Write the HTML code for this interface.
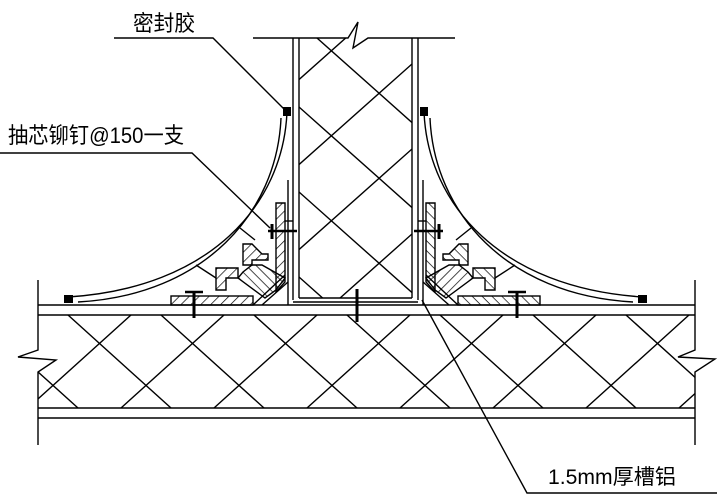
<!DOCTYPE html>
<html><head><meta charset="utf-8"><style>
html,body{margin:0;padding:0;background:#fff;width:717px;height:495px;overflow:hidden}
svg{display:block}
text{font-family:"Liberation Sans","Noto Sans CJK SC",sans-serif;fill:#000}
</style></head><body>
<svg width="717" height="495" viewBox="0 0 717 495" xmlns="http://www.w3.org/2000/svg">
<defs>
<pattern id="hatch" patternUnits="userSpaceOnUse" width="7" height="7" patternTransform="rotate(45)">
<line x1="0" y1="0" x2="0" y2="7" stroke="#000" stroke-width="1.4"/>
</pattern>
<pattern id="hatch2" patternUnits="userSpaceOnUse" width="7" height="7" patternTransform="rotate(-45)">
<line x1="0" y1="0" x2="0" y2="7" stroke="#000" stroke-width="1.4"/>
</pattern>
<clipPath id="floorClip"><rect x="38" y="315" width="657" height="93"/></clipPath>
<clipPath id="wallClip"><rect x="299" y="38" width="113" height="260"/></clipPath>
</defs>
<g stroke="#000" fill="none" stroke-width="1.4">
<g>
<line x1="38" y1="305" x2="695" y2="305"/>
<line x1="38" y1="315" x2="695" y2="315"/>
<line x1="38" y1="408" x2="695" y2="408"/>
<line x1="38" y1="418" x2="695" y2="418"/>
<polyline points="38,280 38,350 18,357 56,360 38,372 38,445"/>
<polyline points="695,280 695,350 678,357 715,359 695,372 695,445"/>
<g id="floorHatch" clip-path="url(#floorClip)"></g>
</g>
<g>
<polyline points="253,38 348,38 358,22 353,48 368,38 455,38"/>
<line x1="293" y1="38" x2="293" y2="300"/>
<line x1="299" y1="38" x2="299" y2="298"/>
<line x1="412" y1="38" x2="412" y2="298"/>
<line x1="418" y1="38" x2="418" y2="300"/>
<line x1="299" y1="298" x2="412" y2="298"/>
<line x1="293" y1="302" x2="418" y2="302"/>
<polyline points="288,180 288,305"/>
<polyline points="423,180 423,305"/>
<g id="wallHatch" clip-path="url(#wallClip)"></g>
<line x1="357" y1="289" x2="357" y2="322" stroke-width="3"/>
</g>
<g>
<path d="M287,112 C283,205 210,288 68,297"/>
<path d="M281,118 C277,212 205,295 78,302"/>
<rect x="64" y="295" width="9" height="8" fill="#000" stroke="none"/>
<rect x="283" y="107" width="8" height="9" fill="#000" stroke="none"/>
</g>
<g transform="translate(711,0) scale(-1,1)">
<path d="M287,112 C283,205 210,288 68,297"/>
<path d="M281,118 C277,212 205,295 78,302"/>
<rect x="64" y="295" width="9" height="8" fill="#000" stroke="none"/>
<rect x="283" y="107" width="8" height="9" fill="#000" stroke="none"/>
</g>
<g id="leftBracket">
<rect x="171" y="296" width="82" height="9" fill="url(#hatch)"/>
<line x1="185" y1="292" x2="203" y2="292" stroke-width="2.5"/>
<line x1="194" y1="292" x2="194" y2="318" stroke-width="3"/>
<polygon points="276,203 285,203 285,282 276,292" fill="url(#hatch)"/>
<line x1="268" y1="231" x2="297" y2="231" stroke-width="2.5"/>
<line x1="272" y1="224" x2="272" y2="239" stroke-width="3"/>
<polyline points="285,221 293,221"/>
<line x1="253" y1="305" x2="285" y2="275"/>
<line x1="262" y1="305" x2="288" y2="282"/>
<polygon points="243,244 252,244 262,254 268,254 268,260 252,260 252,265 243,265" fill="url(#hatch)"/>
<polygon points="216,268 238,268 238,278 226,278 226,290 216,290" fill="url(#hatch)"/>
<polygon points="252,265 262,265 285,278 276,290 265,298 238,278 243,272" fill="url(#hatch2)"/>
<polyline points="240,228 255,240"/>
<polyline points="196,265 216,278"/>
</g>
<use href="#leftBracket" transform="translate(711,0) scale(-1,1)"/>
<g>
<polyline points="114,38 213,38 285,110"/>
</g>
<g>
<polyline points="0,153 192,153 270,228"/>
</g>
<g>
<polyline points="717,493 527,493 422,300"/>
</g>
</g>
<text x="133" y="31" font-size="22" textLength="62" lengthAdjust="spacingAndGlyphs">密封胶</text>
<text x="8" y="143" font-size="22" textLength="176" lengthAdjust="spacingAndGlyphs">抽芯铆钉@150一支</text>
<text x="548" y="484" font-size="21" textLength="128" lengthAdjust="spacingAndGlyphs">1.5mm厚槽铝</text>
</svg>
<script>
var ns="http://www.w3.org/2000/svg";
function ln(g,x1,y1,x2,y2){var l=document.createElementNS(ns,"line");
l.setAttribute("x1",x1);l.setAttribute("y1",y1);l.setAttribute("x2",x2);l.setAttribute("y2",y2);


g.appendChild(l);}
var fh=document.getElementById("floorHatch");
for(var k=-3;k<10;k++){var x=68+93*k;ln(fh,x,315,x+103,408);var x2=131+93*k;ln(fh,x2,315,x2-103,408);}
var wh=document.getElementById("wallHatch");
var s=0.89;
for(var k=-2;k<6;k++){var y=22+85*k;ln(wh,299,y,412,y+113*s);var y2=-21+85*k;ln(wh,412,y2,299,y2+113*s);}
</script>
</body></html>
